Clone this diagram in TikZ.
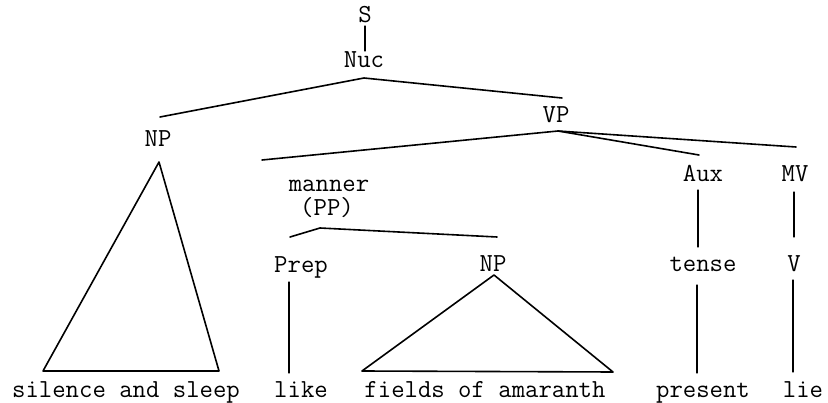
\documentclass[tikz,border=0pt]{standalone}
\begin{document}
\begin{tikzpicture}[x=1pt,y=-1pt,
  lab/.style={font=\ttfamily\fontsize{26}{30}\selectfont, inner sep=0pt, anchor=base},
  br/.style={line width=1.6pt, line cap=round, line join=round},
  vl/.style={line width=1.3pt, line cap=round}]
\useasboundingbox (0,0) rectangle (828,403);
% labels
\node[lab] (S) at (365,23) {S};
\node[lab] (Nuc) at (364,68) {Nuc};
\node[lab] (NPl) at (158,147) {NP};
\node[lab] (VP) at (556,123) {VP};
\node[lab] (Aux) at (703,182) {Aux};
\node[lab] (MV) at (795,182) {MV};
\node[lab] (manner) at (329,192) {manner};
\node[lab] (PP) at (327,216) {(PP)};
\node[lab] (Prep) at (301,273) {Prep};
\node[lab] (NPr) at (493,272) {NP};
\node[lab] (tense) at (703,272) {tense};
\node[lab] (V) at (794,272) {V};
\node[lab] (w1) at (126,398) {silence and sleep};
\node[lab] (w2) at (301,398) {like};
\node[lab] (w3) at (485,398) {fields of amaranth};
\node[lab] (w4) at (703,398) {present};
\node[lab] (w5) at (803,398) {lie};
% branch points
\coordinate (sb) at (365,26);
\coordinate (nt) at (365,51);
\coordinate (nucA) at (364,78);
\coordinate (npLtop) at (160,117);
\coordinate (vpTop) at (562,98);
\coordinate (vpA) at (558,131);
\coordinate (mannerTop) at (262,160);
\coordinate (auxTop) at (699,155);
\coordinate (mvTop) at (796,147);
\coordinate (ppA) at (320,228);
\coordinate (prepTop) at (290,237);
\coordinate (npRtop) at (497,237);
\coordinate (triLa) at (159,162);
\coordinate (triLb) at (43,371);
\coordinate (triLc) at (219,371);
\coordinate (triRa) at (494,275);
\coordinate (triRb) at (362,371);
\coordinate (triRc) at (613,372);
\coordinate (prepB) at (289,282);
\coordinate (likeT) at (289,373);
\coordinate (auxB) at (698,190);
\coordinate (tenseT) at (698,247);
\coordinate (tenseB) at (697,285);
\coordinate (presT) at (697,373);
\coordinate (mvB) at (794,192);
\coordinate (vT) at (794,237);
\coordinate (vB) at (793,280);
\coordinate (lieT) at (793,372);
% connectors
\draw[vl] (sb) -- (nt);
\draw[br] (npLtop) -- (nucA) -- (vpTop);
\draw[br] (mannerTop) -- (vpA) -- (mvTop);
\draw[br] (vpA) -- (auxTop);
\draw[br] (prepTop) -- (ppA) -- (npRtop);
\draw[br] (triLa) -- (triLb) -- (triLc) -- cycle;
\draw[br] (triRa) -- (triRb) -- (triRc) -- cycle;
\draw[vl] (prepB) -- (likeT);
\draw[vl] (auxB) -- (tenseT);
\draw[vl] (tenseB) -- (presT);
\draw[vl] (mvB) -- (vT);
\draw[vl] (vB) -- (lieT);
\end{tikzpicture}
\end{document}
